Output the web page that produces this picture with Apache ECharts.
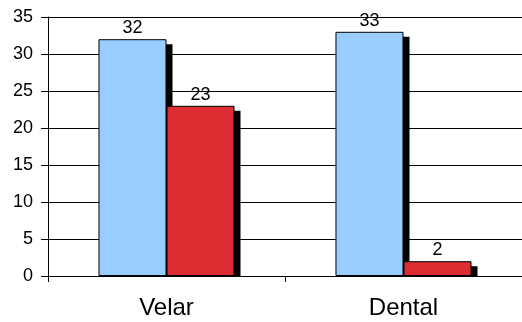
<!DOCTYPE html>
<html>
<head>
<meta charset="utf-8">
<script src="https://cdn.jsdelivr.net/npm/echarts@6/dist/echarts.min.js"></script>
<style>
  html, body { margin: 0; padding: 0; background: #fff; }
  #chart { width: 522px; height: 322px; }
</style>
</head>
<body>
<div id="chart"></div>
<script>
// Category labels and the two series (counts per place of articulation)
const categories = ['Velar', 'Dental'];
const seriesA = [32, 33];
const seriesB = [23, 2];
const yTicks = { min: 0, max: 35, interval: 5 };

const colors = ['#99CCFF', '#DD2D32'];
const BAR_PCT = 0.287;        // bar width as a share of the category band
const SHADOW_DX = 6, SHADOW_DY = 5;

// Shadow rectangles: one per bar, derived from the same values
const shadowData = [];
[seriesA, seriesB].forEach((vals, s) => {
  vals.forEach((v, i) => shadowData.push([i, v, s]));
});

const font = 'Liberation Sans, Arial, sans-serif';

const chart = echarts.init(document.getElementById('chart'), null, { renderer: 'canvas' });

function barSeries(data, color) {
  return {
    type: 'bar',
    data: data,
    barWidth: (BAR_PCT * 100) + '%',
    barGap: '0%',
    z: 3,
    itemStyle: { color: color, borderColor: '#000', borderWidth: 1 },
    label: {
      show: true,
      position: 'top',
      distance: 2,
      color: '#000',
      fontSize: 18,
      fontFamily: font
    }
  };
}

chart.setOption({
  animation: false,
  grid: { left: 48, right: 0, top: 17, bottom: 46, containLabel: false },
  xAxis: {
    type: 'category',
    data: categories,
    axisLine: { show: true, lineStyle: { color: '#000', width: 1 } },
    axisTick: { show: true, alignWithLabel: false, length: 6, lineStyle: { color: '#000' } },
    axisLabel: { color: '#000', fontSize: 24, fontFamily: font, margin: 20 },
    splitLine: { show: false }
  },
  yAxis: {
    type: 'value',
    min: yTicks.min,
    max: yTicks.max,
    interval: yTicks.interval,
    axisLine: { show: true, lineStyle: { color: '#000', width: 1 } },
    axisTick: { show: true, inside: false, length: 7, lineStyle: { color: '#000' } },
    axisLabel: { color: '#000', fontSize: 18, fontFamily: font, margin: 15 },
    splitLine: { show: true, lineStyle: { color: '#000', width: 1 } }
  },
  series: [
    {
      type: 'custom',
      z: 2,
      silent: true,
      data: shadowData,
      renderItem: function (params, api) {
        const cat = api.value(0), val = api.value(1), s = api.value(2);
        const center = api.coord([cat, 0]);
        const top = api.coord([cat, val]);
        const bandW = api.size([1, 0])[0];
        const w = bandW * BAR_PCT;
        const left = center[0] - w + s * w;
        const y0 = top[1] + SHADOW_DY;
        return {
          type: 'rect',
          shape: { x: left + SHADOW_DX, y: y0, width: w, height: center[1] - y0 },
          style: { fill: '#000' }
        };
      }
    },
    barSeries(seriesA, colors[0]),
    barSeries(seriesB, colors[1])
  ]
});
</script>
</body>
</html>
